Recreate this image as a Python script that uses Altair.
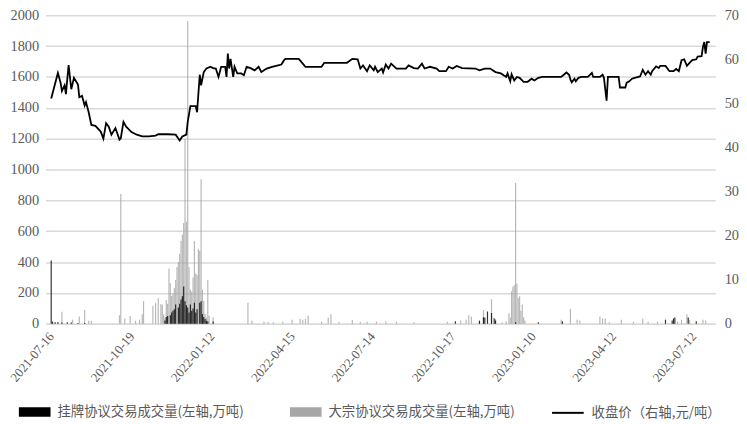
import altair as alt
import pandas as pd

# ---------------- data ----------------
N_DAYS = 493  # trading-day index 0..492

tick_idx = [0, 60, 120, 180, 240, 300, 360, 420, 480]
tick_labels = ["2021-07-16", "2021-10-19", "2022-01-12", "2022-04-15", "2022-07-14",
               "2022-10-17", "2023-01-10", "2023-04-12", "2023-07-12"]

series_listing = "挂牌协议交易成交量(左轴,万吨)"
series_block = "大宗协议交易成交量(左轴,万吨)"
series_price = "收盘价（右轴,元/吨）"

# closing price (right axis, yuan/t) at trading-day index
price_idx = [0, 5, 7, 8, 10, 11, 13, 15, 17, 20, 21, 23, 25, 26, 28, 30, 33, 37, 39, 41,
             43, 45, 48, 51, 52, 54, 56, 60, 64, 68, 73, 78, 80, 87, 93, 96, 98, 101, 102, 104,
             108, 109, 111, 112, 114, 116, 119, 121, 123, 125, 127, 130, 131, 132, 133, 134, 136, 137, 139, 142,
             144, 146, 149, 152, 155, 157, 161, 165, 168, 172, 174, 175, 185, 190, 202, 204, 221, 225, 229, 231,
             233, 236, 238, 241, 242, 244, 247, 248, 250, 252, 254, 258, 265, 267, 271, 274, 277, 279, 283, 288,
             290, 295, 297, 300, 303, 307, 317, 320, 324, 328, 332, 336, 340, 341, 343, 344, 346, 348, 350, 353,
             356, 359, 361, 364, 367, 381, 383, 385, 387, 388, 389, 391, 392, 394, 396, 401, 404, 405, 410, 412,
             413, 415, 416, 424, 425, 429, 430, 432, 434, 436, 440, 442, 444, 446, 448, 449, 452, 454, 455, 459,
             462, 465, 467, 469, 471, 473, 475, 477, 479, 482, 483, 486, 487, 488, 489, 490, 492]
price_val = [51.1, 56.9, 54.7, 52.8, 54.1, 52.1, 58.7, 53.2, 55.8, 54.3, 51.4, 51.7, 49.5, 50.3, 48.0, 45.1, 44.9, 43.6, 42.0, 45.5,
             44.7, 42.9, 44.4, 41.8, 42.1, 45.8, 44.7, 43.5, 42.9, 42.5, 42.5, 42.7, 43.0, 43.0, 42.9, 41.6, 42.5, 42.9, 45.8, 49.4,
             49.4, 48.0, 56.5, 54.1, 57.1, 57.9, 58.3, 58.0, 57.9, 56.0, 58.3, 58.3, 56.0, 61.3, 57.9, 60.1, 56.0, 58.3, 56.8, 56.8,
             56.4, 58.3, 58.0, 57.5, 58.3, 57.1, 57.9, 58.3, 58.5, 58.8, 59.8, 60.1, 60.1, 58.3, 58.3, 59.2, 59.2, 60.1, 60.0, 57.9,
             58.6, 57.3, 58.6, 57.5, 58.3, 57.1, 57.9, 57.0, 58.8, 57.9, 59.0, 57.9, 57.9, 58.6, 58.0, 57.9, 59.0, 57.9, 58.3, 57.9,
             57.3, 57.3, 58.3, 57.9, 58.5, 58.0, 57.9, 57.5, 57.9, 57.9, 57.1, 56.8, 56.0, 56.8, 55.0, 56.6, 55.2, 56.0, 55.8, 54.9,
             54.9, 55.6, 55.2, 55.8, 56.0, 56.0, 56.5, 57.0, 56.5, 55.4, 54.8, 55.6, 55.0, 55.8, 56.0, 56.0, 56.9, 56.0, 56.0, 56.5,
             55.8, 50.6, 56.0, 56.0, 53.6, 53.6, 54.7, 55.0, 55.6, 55.8, 56.1, 57.6, 56.5, 57.3, 56.5, 57.3, 58.4, 58.0, 58.5, 58.5,
             57.3, 57.3, 57.8, 57.3, 59.8, 60.0, 58.5, 59.2, 59.8, 60.0, 60.6, 60.7, 62.8, 63.9, 61.3, 63.9, 63.9]

# block-trade volume (left axis, 10k t)
block_idx = [8, 16, 21, 25, 28, 30, 51, 52, 55, 59, 63, 66, 68, 69, 76, 78, 80, 82, 83, 84,
             85, 86, 87, 88, 89, 90, 91, 92, 93, 94, 95, 96, 97, 98, 99, 100, 101, 102, 103, 104,
             105, 106, 107, 108, 109, 110, 111, 112, 113, 114, 115, 116, 117, 118, 121, 147, 150, 159, 162, 166,
             173, 180, 186, 188, 190, 192, 202, 207, 209, 215, 225, 231, 236, 243, 250, 258, 271, 296, 306, 310,
             312, 314, 320, 323, 329, 332, 337, 340, 342, 343, 344, 345, 346, 347, 348, 349, 350, 351, 352, 353,
             354, 381, 388, 393, 395, 410, 412, 414, 417, 426, 435, 442, 446, 453, 468, 471, 475, 477, 487, 489]
block_val = [78, 27, 47, 89, 20, 20, 55, 842, 35, 51, 20, 27, 62, 147, 117, 134, 165, 128, 124, 60,
             40, 155, 130, 358, 263, 180, 200, 230, 284, 368, 400, 453, 537, 579, 653, 1200, 663, 1960, 368, 221,
             210, 300, 537, 326, 316, 484, 474, 937, 221, 150, 63, 40, 284, 53, 42, 137, 21, 14, 14, 10,
             14, 27, 31, 27, 31, 56, 14, 41, 62, 14, 25, 14, 14, 14, 16, 14, 10, 14, 21, 27,
             56, 47, 16, 89, 159, 31, 10, 16, 68, 41, 210, 241, 252, 913, 262, 168, 178, 84, 126, 42,
             21, 27, 97, 27, 21, 47, 35, 35, 10, 27, 14, 35, 14, 14, 14, 27, 62, 27, 27, 21]

# listing-agreement volume (left axis, 10k t)
listing_idx = [0, 1, 3, 5, 8, 12, 15, 20, 25, 85, 86, 87, 89, 90, 91, 92, 93, 95, 96, 97,
               98, 99, 100, 101, 102, 103, 104, 105, 106, 107, 108, 109, 111, 112, 113, 114, 115, 116, 117, 121,
               302, 320, 323, 324, 326, 329, 331, 332, 347, 364, 382, 459, 464, 465, 466, 476, 482]
listing_val = [410, 15, 10, 12, 8, 10, 8, 6, 5, 21, 45, 50, 55, 74, 84, 95, 126, 105, 130, 158,
               179, 242, 147, 120, 105, 74, 126, 84, 100, 137, 74, 95, 137, 147, 63, 45, 32, 20, 15, 15,
               16, 21, 42, 41, 80, 70, 36, 21, 10, 10, 16, 27, 21, 35, 41, 41, 16]

# ---------------- chart ----------------
block_df = pd.DataFrame({"i": block_idx, "v": block_val, "s": series_block})
listing_df = pd.DataFrame({"i": listing_idx, "v": listing_val, "s": series_listing})
price_df = pd.DataFrame({"i": price_idx, "p": price_val, "s": series_price})

SERIF = "Liberation Serif"
CJK = "Noto Sans CJK SC"
GRAY_TXT = "#595959"

label_array = "[" + ",".join("'%s'" % t for t in tick_labels) + "]"
x_enc = alt.X(
    "i:Q",
    scale=alt.Scale(domain=[-0.5, N_DAYS - 0.5], nice=False, zero=False),
    axis=alt.Axis(
        values=tick_idx,
        labelExpr=label_array + "[round(datum.value / 60)]",
        labelAngle=310, labelAlign="right", labelBaseline="middle",
        labelFont=SERIF, labelFontSize=13, labelColor=GRAY_TXT, labelPadding=10,
        grid=False, ticks=False, domain=True, domainColor="#d9d9d9", domainWidth=1.5,
        title=None, labelOverlap=False, labelBound=False, labelFlush=False,
    ),
)

fill_scale = alt.Scale(domain=[series_listing, series_block], range=["#000000", "#a6a6a6"])
fill_legend = alt.Legend(
    orient="none", legendX=-27, legendY=385, direction="horizontal", title=None,
    symbolType="M-1,-0.3H1V0.3H-1Z", symbolSize=1024, symbolStrokeWidth=0, symbolOpacity=1,
    labelFont=CJK, labelFontSize=13.5, labelColor=GRAY_TXT, labelLimit=400,
    columnPadding=46, labelOffset=7,
)

y_left = alt.Y(
    "v:Q",
    scale=alt.Scale(domain=[0, 2000], nice=False),
    axis=alt.Axis(
        values=list(range(0, 2001, 200)), format="d", grid=True, gridColor="#d9d9d9", gridWidth=1.5,
        ticks=False, domain=False, labelFont=SERIF, labelFontSize=14.5, labelColor=GRAY_TXT,
        labelPadding=7, title=None,
    ),
)

gray_bars = alt.Chart(block_df).mark_bar(size=1.2, opacity=0.8).encode(
    x=x_enc, y=y_left,
    fill=alt.Fill("s:N", scale=fill_scale, legend=fill_legend),
)
black_bars = alt.Chart(listing_df).mark_bar(size=1.2, opacity=0.8).encode(
    x=x_enc, y=y_left,
    fill=alt.Fill("s:N", scale=fill_scale, legend=fill_legend),
)
bars = alt.layer(gray_bars, black_bars)

line = alt.Chart(price_df).mark_line(strokeWidth=1.8, interpolate="linear").encode(
    x=x_enc,
    y=alt.Y(
        "p:Q",
        scale=alt.Scale(domain=[0, 70], nice=False),
        axis=alt.Axis(
            orient="right", values=list(range(0, 71, 10)), grid=False, ticks=False, domain=False,
            labelFont=SERIF, labelFontSize=14.5, labelColor=GRAY_TXT, labelPadding=9, title=None,
        ),
    ),
    stroke=alt.Stroke(
        "s:N",
        scale=alt.Scale(domain=[series_price], range=["#000000"]),
        legend=alt.Legend(
            orient="none", legendX=511, legendY=385, title=None, symbolType="stroke",
            symbolSize=1024, symbolStrokeWidth=2, symbolOpacity=1, labelFont=CJK, labelFontSize=13.5,
            labelColor=GRAY_TXT, labelLimit=400, labelOffset=7,
        ),
    ),
)

chart = (
    alt.layer(bars, line)
    .resolve_scale(y="independent", fill="independent", stroke="independent")
    .properties(
        width=677, height=312,
        padding={"left": 38, "top": 5, "right": 24, "bottom": 99},
        autosize=alt.AutoSizeParams(type="none"),
        background="white",
    )
    .configure_view(stroke=None)
)

chart.save("out.html", embed_options={"renderer": "svg", "actions": False})
